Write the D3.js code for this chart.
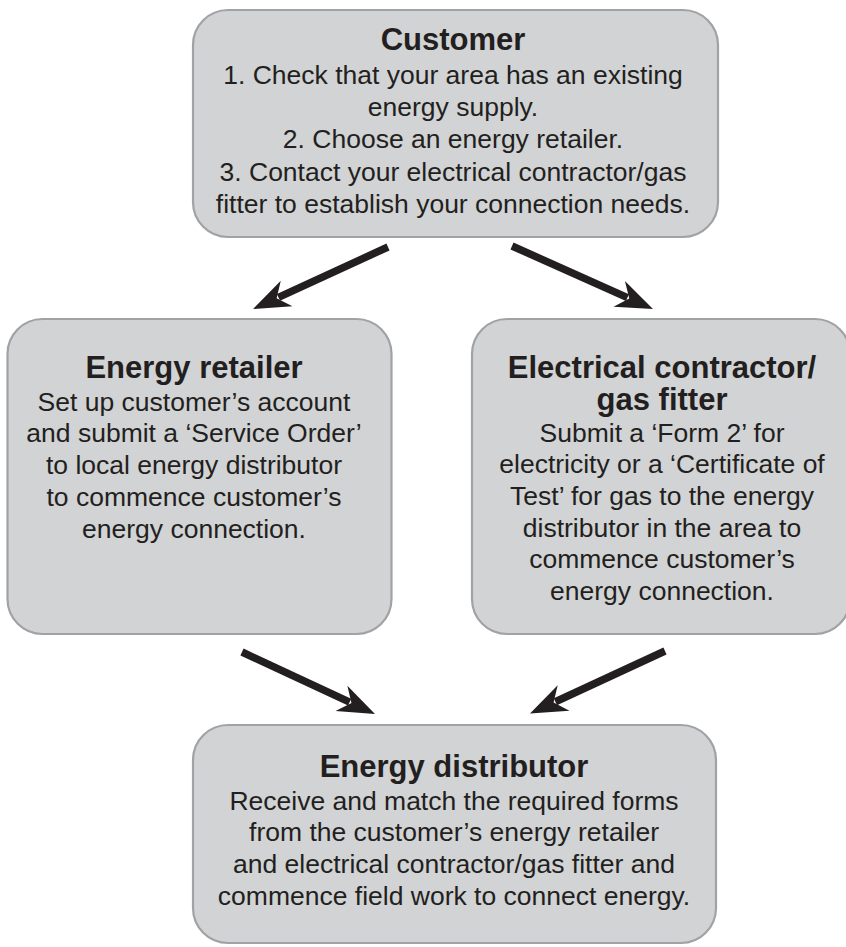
<!DOCTYPE html>
<html>
<head>
<meta charset="utf-8">
<script src="https://cdn.jsdelivr.net/npm/d3@7"></script>
<style>
  html, body { margin: 0; padding: 0; background: #ffffff; }
  svg { display: block; }
</style>
</head>
<body>
<div id="chart"></div>
<script>
// ---------- data ----------
const nodeIds = ["customer", "retailer", "contractor", "distributor"];

const nodeTitles = [
  ["Customer"],
  ["Energy retailer"],
  ["Electrical contractor/", "gas fitter"],
  ["Energy distributor"]
];

const nodeBodies = [
  ["1. Check that your area has an existing",
   "energy supply.",
   "2. Choose an energy retailer.",
   "3. Contact your electrical contractor/gas",
   "fitter to establish your connection needs."],
  ["Set up customer\u2019s account",
   "and submit a \u2018Service Order\u2019",
   "to local energy distributor",
   "to commence customer\u2019s",
   "energy connection."],
  ["Submit a \u2018Form 2\u2019 for",
   "electricity or a \u2018Certificate of",
   "Test\u2019 for gas to the energy",
   "distributor in the area to",
   "commence customer\u2019s",
   "energy connection."],
  ["Receive and match the required forms",
   "from the customer\u2019s energy retailer",
   "and electrical contractor/gas fitter and",
   "commence field work to connect energy."]
];

const links = [
  ["customer", "retailer"],
  ["customer", "contractor"],
  ["retailer", "distributor"],
  ["contractor", "distributor"]
];

// ---------- layout (positions & styles) ----------
const W = 846, H = 947;
const boxLayout = {
  customer:    { x: 193, y: 10,  w: 525, h: 227, cx: 453, titleY: 50,  bodyY: 83.5, lh: 32.4 },
  retailer:    { x: 7.5, y: 319, w: 384, h: 315, cx: 194, titleY: 378, bodyY: 410.5, lh: 31.8 },
  contractor:  { x: 472, y: 319, w: 378, h: 315, cx: 662, titleY: 378, bodyY: 441.7, lh: 31.6 },
  distributor: { x: 193, y: 725, w: 523, h: 218, cx: 454, titleY: 777, bodyY: 809.5, lh: 31.9 }
};
const TITLE_LH = 32;
const arrowLayout = [
  { x1: 388, y1: 247, x2: 253, y2: 309 },
  { x1: 512, y1: 246, x2: 653, y2: 309 },
  { x1: 242, y1: 652, x2: 375, y2: 714 },
  { x1: 665, y1: 651, x2: 530, y2: 713.5 }
];

const FILL = "#d1d3d4", STROKE = "#a0a2a5", INK = "#231f20";
const FONT = "'Liberation Sans', Arial, Helvetica, sans-serif";
const TITLE_SIZE = 31, BODY_SIZE = 26.5;

const svg = d3.select("#chart").append("svg")
  .attr("width", W).attr("height", H)
  .attr("viewBox", [0, 0, W, H]);

const x = d3.scaleIdentity().domain([0, W]);
const y = d3.scaleIdentity().domain([0, H]);

// ---------- boxes ----------
const nodes = nodeIds.map((id, i) => ({ id, title: nodeTitles[i], body: nodeBodies[i], L: boxLayout[id] }));

const g = svg.selectAll("g.node").data(nodes).join("g").attr("class", "node");

g.append("rect")
  .attr("x", d => x(d.L.x)).attr("y", d => y(d.L.y))
  .attr("width", d => d.L.w).attr("height", d => d.L.h)
  .attr("rx", 35).attr("ry", 35)
  .attr("fill", FILL).attr("stroke", STROKE).attr("stroke-width", 2.2);

// title: one text element, one tspan per line
const title = g.append("text")
  .attr("class", "title")
  .attr("text-anchor", "middle")
  .attr("font-family", FONT)
  .attr("font-size", TITLE_SIZE)
  .attr("font-weight", "bold")
  .attr("fill", INK);
title.selectAll("tspan").data(d => d.title.map((t, k) => ({ t, k, L: d.L })))
  .join("tspan")
  .attr("x", l => x(l.L.cx))
  .attr("y", l => y(l.L.titleY + l.k * TITLE_LH))
  .text(l => l.t);

// body lines
g.each(function(d) {
  d3.select(this).selectAll("text.body").data(d.body).join("text")
    .attr("class", "body")
    .attr("x", x(d.L.cx))
    .attr("y", (t, k) => y(d.L.bodyY + k * d.L.lh))
    .attr("text-anchor", "middle")
    .attr("font-family", FONT)
    .attr("font-size", BODY_SIZE)
    .attr("fill", INK)
    .text(t => t);
});

// ---------- arrows ----------
const HEAD_LEN = 37, HEAD_HALF = 14, NOTCH = 26, SHAFT = 7.5;
const lineGen = d3.line();

const arrows = links.map((lk, i) => ({ link: lk, A: arrowLayout[i] }));

const ag = svg.selectAll("g.arrow").data(arrows).join("g").attr("class", "arrow");

ag.append("path")
  .attr("d", d => {
    const { x1, y1, x2, y2 } = d.A;
    const dx = x2 - x1, dy = y2 - y1, len = Math.hypot(dx, dy);
    const ux = dx / len, uy = dy / len;
    const ex = x2 - ux * (NOTCH + 2), ey = y2 - uy * (NOTCH + 2);
    return lineGen([[x(x1), y(y1)], [x(ex), y(ey)]]);
  })
  .attr("stroke", INK).attr("stroke-width", SHAFT).attr("fill", "none");

ag.append("path")
  .attr("d", d => {
    const { x1, y1, x2, y2 } = d.A;
    const dx = x2 - x1, dy = y2 - y1, len = Math.hypot(dx, dy);
    const ux = dx / len, uy = dy / len, nx = -uy, ny = ux;
    const bx = x2 - ux * HEAD_LEN, by = y2 - uy * HEAD_LEN;
    const mx = x2 - ux * NOTCH, my = y2 - uy * NOTCH;
    return lineGen([
      [x2, y2],
      [bx + nx * HEAD_HALF, by + ny * HEAD_HALF],
      [mx, my],
      [bx - nx * HEAD_HALF, by - ny * HEAD_HALF]
    ].map(p => [x(p[0]), y(p[1])])) + "Z";
  })
  .attr("fill", INK);
</script>
</body>
</html>
